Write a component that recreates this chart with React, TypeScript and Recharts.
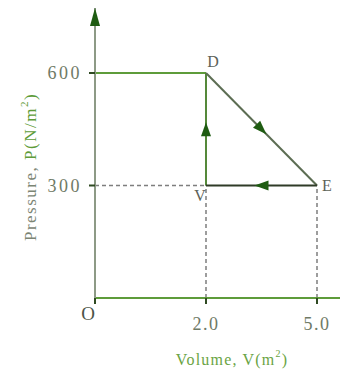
import { LineChart, XAxis, YAxis, ReferenceLine, ReferenceDot, Label } from 'recharts';

// volume axis (not to scale in the source figure, so a point scale is used)
const volumeTicks = [0, 2, 5];
const volumeTickLabels = ['O', '2.0', '5.0'];
const pressureTicks = [300, 600];

// states of the cycle V -> D -> E -> V
const stateNames = ['V', 'D', 'E'];
const stateVolumes = [2, 2, 5];
const statePressures = [300, 600, 300];

const SERIF = '"Liberation Serif", "DejaVu Serif", serif';
const AXIS_GREEN = '#5e9c3a';
const Y_AXIS_GRAY = '#8d9a86';
const ARROW_GREEN = '#1f5c12';
const TEXT_GRAY = '#6f7a66';
const segmentColors = ['#55893a', '#5c6d53', '#2f3b27'];

const rows = volumeTicks.map(v => ({ v }));

const labelOffsets: Record<string, [number, number]> = {
    V: [-6, 10],
    D: [7, -12],
    E: [10, 0],
};

function arrowSegment(color: string) {
    return (props: any) => {
        const { x1, y1, x2, y2 } = props;
        const dx = x2 - x1;
        const dy = y2 - y1;
        const len = Math.hypot(dx, dy) || 1;
        const ux = dx / len;
        const uy = dy / len;
        const mx = (x1 + x2) / 2;
        const my = (y1 + y2) / 2;
        const tip = [mx + ux * 7, my + uy * 7];
        const base = [mx - ux * 7, my - uy * 7];
        const px = -uy * 5;
        const py = ux * 5;
        const pts = `${tip[0]},${tip[1]} ${base[0] + px},${base[1] + py} ${base[0] - px},${base[1] - py}`;
        return (
            <g>
                <line x1={x1} y1={y1} x2={x2} y2={y2} stroke={color} strokeWidth={2} />
                <polygon points={pts} fill={ARROW_GREEN} />
            </g>
        );
    };
}

function VolumeTick(props: any) {
    const { x, y, payload, index } = props;
    const text = volumeTickLabels[index] ?? String(payload.value);
    if (payload.value === 0) {
        return (
            <text x={x - 7} y={y + 3} textAnchor="middle" fontFamily={SERIF} fontSize={19} fill="#4d5548">
                {text}
            </text>
        );
    }
    return (
        <text x={x} y={y} dy="0.71em" textAnchor="middle" fontFamily={SERIF} fontSize={18} fill={TEXT_GRAY} letterSpacing={1.5}>
            {text}
        </text>
    );
}

export default function App() {
    const cycle = stateNames.map((_, i) => {
        const j = (i + 1) % stateNames.length;
        return {
            from: { x: stateVolumes[i], y: statePressures[i] },
            to: { x: stateVolumes[j], y: statePressures[j] },
            color: segmentColors[i],
        };
    });

    return (
        <div style={{ position: 'absolute', left: 0, top: 0, background: '#fff' }}>
            <LineChart width={340} height={369} data={rows} margin={{ top: 8, right: 0, bottom: 0, left: 0 }}>
                <defs>
                    <marker
                        id="axisArrow"
                        viewBox="0 0 18 10"
                        markerWidth={18}
                        markerHeight={10}
                        refX={18}
                        refY={5}
                        markerUnits="userSpaceOnUse"
                        orient="auto-start-reverse"
                    >
                        <path d="M0,0 L18,5 L0,10 z" fill={ARROW_GREEN} />
                    </marker>
                </defs>
                <XAxis
                    dataKey="v"
                    type="category"
                    scale="point"
                    interval={0}
                    padding={{ left: 0, right: 23 }}
                    height={71}
                    axisLine={{ stroke: AXIS_GREEN, strokeWidth: 2 }}
                    tickLine={{ stroke: '#2f4a22', strokeWidth: 2 }}
                    tickSize={6}
                    tickMargin={13}
                    tick={<VolumeTick />}
                >
                    <Label
                        content={(p: any) => {
                            const vb = p.viewBox;
                            return (
                                <text
                                    x={vb.x + 137}
                                    y={vb.y + 61}
                                    textAnchor="middle"
                                    dominantBaseline="central"
                                    fontFamily={SERIF}
                                    fontSize={16}
                                    letterSpacing={1.2}
                                    fill="#6aa444"
                                >
                                    Volume, V(m<tspan baselineShift="super" fontSize={10}>2</tspan>)
                                </text>
                            );
                        }}
                    />
                </XAxis>
                <YAxis
                    type="number"
                    domain={[0, 600]}
                    allowDataOverflow
                    ticks={pressureTicks}
                    padding={{ top: 65, bottom: 0 }}
                    width={95}
                    axisLine={{ stroke: Y_AXIS_GRAY, strokeWidth: 2, markerStart: 'url(#axisArrow)' }}
                    tickLine={{ stroke: '#2f4a22', strokeWidth: 2 }}
                    tickSize={6}
                    tickMargin={7}
                    tick={{ fontFamily: SERIF, fontSize: 18, fill: TEXT_GRAY, letterSpacing: 2.5 }}
                >
                    <Label
                        content={(p: any) => {
                            const vb = p.viewBox;
                            const cx = vb.x + 30;
                            const cy = vb.y + vb.height / 2 + 14;
                            return (
                                <text
                                    x={cx}
                                    y={cy}
                                    transform={`rotate(-90 ${cx} ${cy})`}
                                    textAnchor="middle"
                                    dominantBaseline="central"
                                    fontFamily={SERIF}
                                    fontSize={17}
                                    letterSpacing={1.5}
                                    fill="#7b8574"
                                >
                                    Pressure, <tspan fill="#5e9c3a">P(N/m<tspan baselineShift="super" fontSize={11}>2</tspan>)</tspan>
                                </text>
                            );
                        }}
                    />
                </YAxis>

                {/* guide lines */}
                <ReferenceLine
                    segment={[{ x: volumeTicks[0], y: statePressures[1] }, { x: stateVolumes[1], y: statePressures[1] }]}
                    stroke={AXIS_GREEN}
                    strokeWidth={2}
                />
                <ReferenceLine
                    segment={[{ x: volumeTicks[0], y: statePressures[0] }, { x: stateVolumes[0], y: statePressures[0] }]}
                    stroke="#7e7e7e"
                    strokeWidth={1.5}
                    strokeDasharray="4 3"
                />
                <ReferenceLine
                    segment={[{ x: stateVolumes[0], y: 0 }, { x: stateVolumes[0], y: statePressures[0] }]}
                    stroke="#7e7e7e"
                    strokeWidth={1.5}
                    strokeDasharray="4 3"
                />
                <ReferenceLine
                    segment={[{ x: stateVolumes[2], y: 0 }, { x: stateVolumes[2], y: statePressures[2] }]}
                    stroke="#7e7e7e"
                    strokeWidth={1.5}
                    strokeDasharray="4 3"
                />

                {/* the cycle with direction arrows */}
                {cycle.map((s, i) => (
                    <ReferenceLine key={`seg-${i}`} segment={[s.from, s.to]} shape={arrowSegment(s.color)} />
                ))}

                {stateNames.map((name, i) => (
                    <ReferenceDot
                        key={name}
                        x={stateVolumes[i]}
                        y={statePressures[i]}
                        r={0}
                        shape={(p: any) => (
                            <text
                                x={p.cx + labelOffsets[name][0]}
                                y={p.cy + labelOffsets[name][1]}
                                textAnchor="middle"
                                dominantBaseline="central"
                                fontFamily={SERIF}
                                fontSize={16}
                                fill="#5d6258"
                            >
                                {name}
                            </text>
                        )}
                    />
                ))}
            </LineChart>
        </div>
    );
}
